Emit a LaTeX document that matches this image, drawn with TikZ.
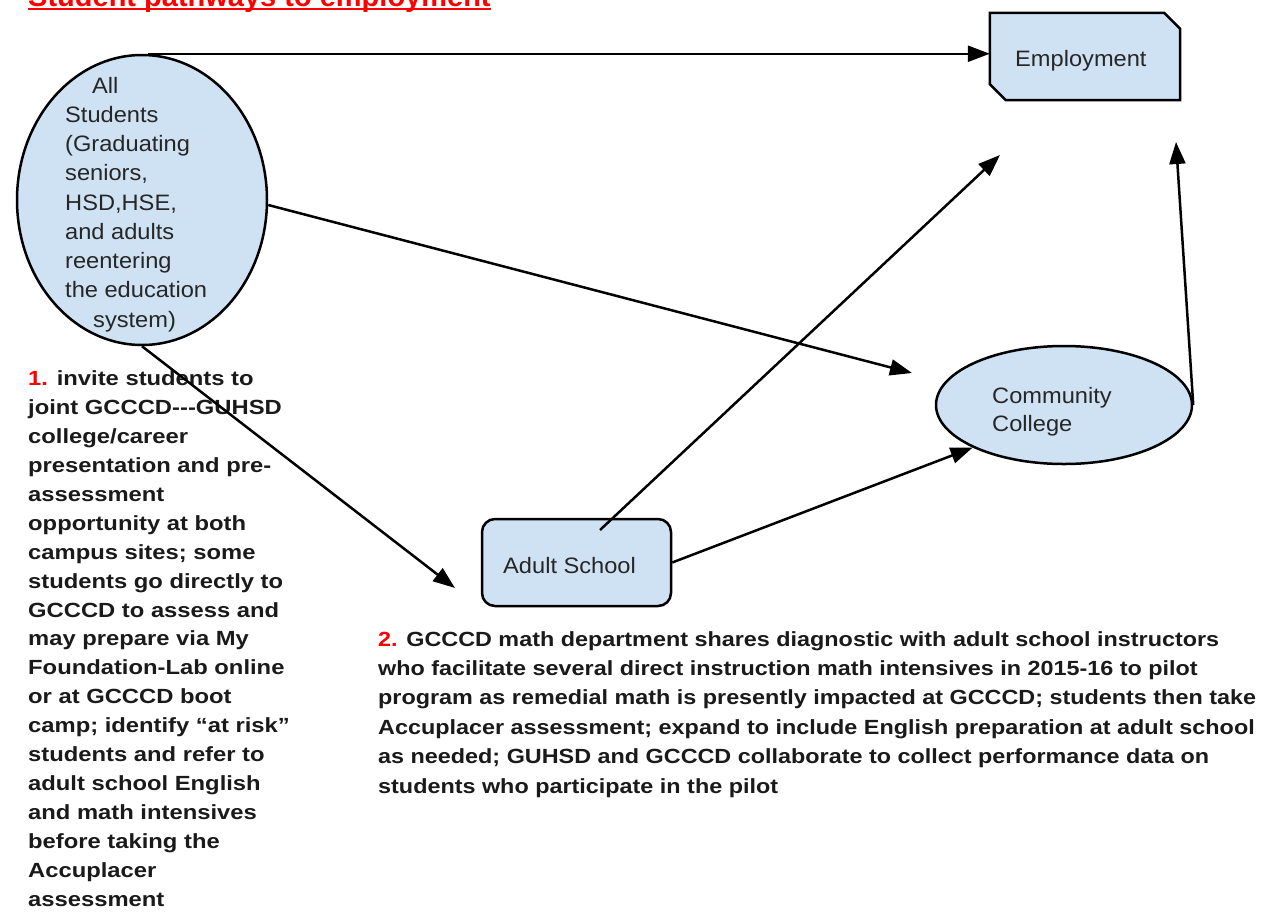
\documentclass[tikz,border=0pt]{standalone}
\usepackage{fontspec}
\setmainfont{Liberation Sans}
\newfontfamily\nodefont[FakeStretch=1.06]{Liberation Sans}
\newfontfamily\noteAfont[FakeStretch=1.16]{Liberation Sans}
\newfontfamily\noteBfont[FakeStretch=1.14]{Liberation Sans}
\usetikzlibrary{arrows.meta,shapes.geometric,calc}
\definecolor{nodefill}{HTML}{CFE2F3}
\definecolor{txt}{HTML}{262626}
\definecolor{note}{HTML}{1A1A1A}
\definecolor{titlered}{HTML}{FF0000}
\tikzset{
  shapeline/.style={draw=black, line width=2.5pt, fill=nodefill},
  conn/.style={draw=black, line width=2.5pt, -{Triangle[length=22pt,width=16pt]}},
  lbl/.style={text=txt, inner sep=0pt, align=left},
  notetext/.style={text=note, inner sep=0pt, align=left}
}
\begin{document}
\begin{tikzpicture}[x=1pt,y=-1pt]
\useasboundingbox (0,0) rectangle (1283,911);
% title (cut off at top)
\node[anchor=base west, inner sep=0pt, text=titlered, font=\fontsize{29}{34}\selectfont\bfseries] (title) at (28,6) {Student pathways to employment};
\draw[titlered, line width=2pt] ($(title.base west)+(0,3)$) -- ($(title.base east)+(0,3)$);
% nodes
\node[shapeline, ellipse, minimum width=250pt, minimum height=290pt, inner sep=0pt] (all) at (142,200) {};
\node[lbl, anchor=base west, font=\nodefont\fontsize{22.3}{29.25}\selectfont] (alltext) at (65,327) {\hspace*{27pt}All\\Students\\(Graduating\\seniors,\\HSD,HSE,\\and adults\\reentering\\the education\\\hspace*{28pt}system)};
\node[rectangle, minimum width=190pt, minimum height=87pt, inner sep=0pt] (emp) at (1085,56.5) {};
\draw[shapeline] (emp.north west) -- ($(emp.north east)+(-16,0)$) -- ($(emp.north east)+(0,16)$) -- (emp.south east) -- ($(emp.south west)+(16,0)$) -- ($(emp.south west)+(0,-16)$) -- cycle;
\node[lbl, anchor=base west, font=\nodefont\fontsize{22.3}{29}\selectfont] (emptext) at (1015,66) {Employment};
\node[shapeline, ellipse, minimum width=256pt, minimum height=118pt, inner sep=0pt] (cc) at (1064,405) {};
\node[lbl, anchor=base west, font=\nodefont\fontsize{22.3}{28}\selectfont] (cctext) at (992,431) {Community\\College};
\node[shapeline, rectangle, rounded corners=13pt, minimum width=189pt, minimum height=87pt, inner sep=0pt] (adult) at (576.5,562.5) {};
\node[lbl, anchor=base west, font=\nodefont\fontsize{22.3}{29}\selectfont] (adulttext) at (503,573) {Adult School};
% free ends
\coordinate (c2) at (912,373);
\coordinate (c3) at (455,588);
\coordinate (c4s) at (600,530);
\coordinate (c4) at (1000,155);
\coordinate (c6) at (1176,142);
% notes
\node[notetext, anchor=base west, font=\noteAfont\fontsize{20.5}{28.9}\selectfont\bfseries] (note1) at (28,906) {{\color{titlered}1.} invite students to\\joint GCCCD-{}-{}-GUHSD\\college/career\\presentation and pre-\\assessment\\opportunity at both\\campus sites; some\\students go directly to\\GCCCD to assess and\\may prepare via My\\Foundation-Lab online\\or at GCCCD boot\\camp; identify “at risk”\\students and refer to\\adult school English\\and math intensives\\before taking the\\Accuplacer\\assessment};
\node[notetext, anchor=base west, font=\noteBfont\fontsize{20.5}{29.4}\selectfont\bfseries] (note2) at (378,793) {{\color{titlered}2.} GCCCD math department shares diagnostic with adult school instructors\\who facilitate several direct instruction math intensives in 2015-16 to pilot\\program as remedial math is presently impacted at GCCCD; students then take\\Accuplacer assessment; expand to include English preparation at adult school\\as needed; GUHSD and GCCCD collaborate to collect performance data on\\students who participate in the pilot};
% connectors
\draw[conn] ($(all.north)+(6,0)$) -- (all.north -| emp.west);
\draw[conn] ($(all.east)+(0,5)$) -- (c2);
\draw[conn] (all.south) -- (c3);
\draw[conn] (c4s) -- (c4);
\draw[conn] (adult.east) -- (cc.south west);
\draw[conn] (cc.east) -- (c6);
\end{tikzpicture}
\end{document}
